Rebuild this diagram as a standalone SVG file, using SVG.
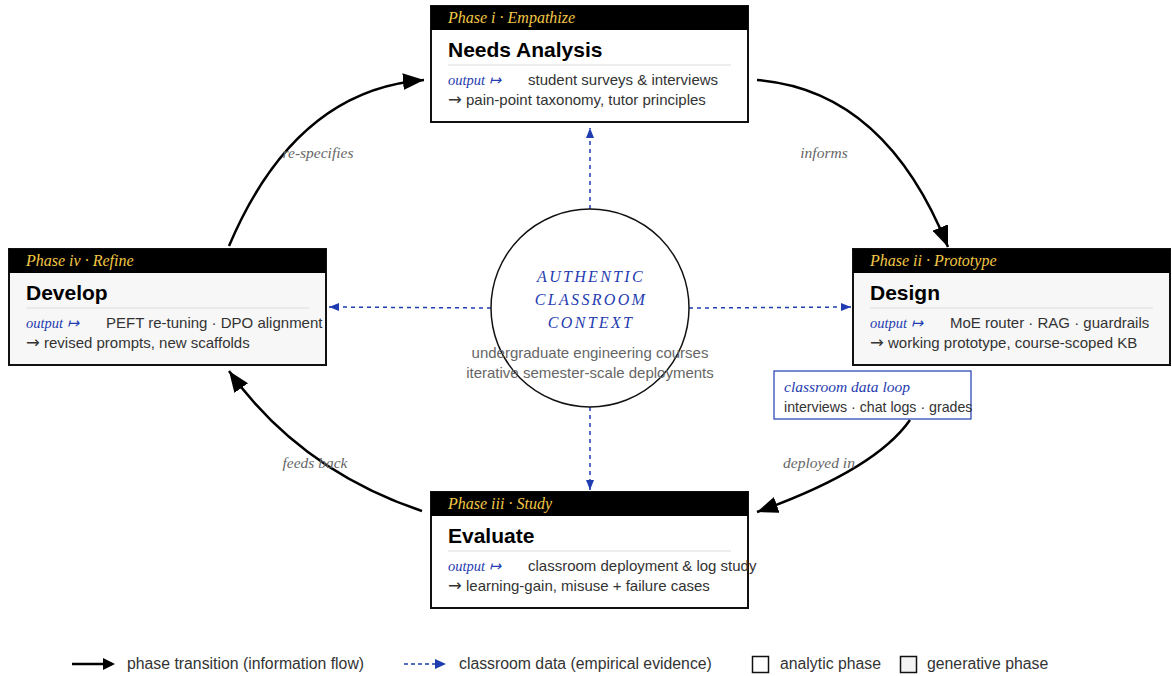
<svg xmlns="http://www.w3.org/2000/svg" width="1172" height="676" viewBox="0 0 1172 676">
<style>
.box{stroke:#111;stroke-width:2}
.an{fill:#fff}
.gen{fill:#f7f7f7}
.hdr{fill:#000}
.ph{font-family:"Liberation Serif",serif;font-style:italic;font-size:16px;fill:#f2c744}
.title{font-family:"Liberation Sans",Arial,sans-serif;font-weight:bold;font-size:21px;fill:#000}
.sep{stroke:#ddd;stroke-width:1}
.out{font-family:"Liberation Serif",serif;font-style:italic;font-size:14.5px;fill:#1f3cb0}
.body{font-family:"Liberation Sans",Arial,sans-serif;font-size:15px;fill:#333}
.arr{font-family:"DejaVu Sans",sans-serif;font-size:16.5px}
.lbl{font-family:"Liberation Serif",serif;font-style:italic;font-size:15.5px;fill:#666}
.ctx{font-family:"Liberation Serif",serif;font-style:italic;font-size:16px;fill:#1f3cb0;letter-spacing:2.3px}
.sub{font-family:"Liberation Sans",Arial,sans-serif;font-size:15px;fill:#666}
.flow{fill:none;stroke:#000;stroke-width:2.5}
.data{fill:none;stroke:#1f3cb0;stroke-width:1.5;stroke-dasharray:4 4}
.leg{font-family:"Liberation Sans",Arial,sans-serif;font-size:15.8px;fill:#333}
</style>
<defs>
<marker id="ahb" viewBox="0 0 10 10" refX="10" refY="5" markerWidth="10" markerHeight="10" markerUnits="userSpaceOnUse" orient="auto">
<path d="M0,1 L10,5 L0,9 z" fill="#1f3cb0"/>
</marker>
<marker id="ahk" viewBox="0 0 20 16" refX="20" refY="8" markerWidth="21" markerHeight="17" markerUnits="userSpaceOnUse" orient="auto">
<path d="M0,0 L20,8 L0,16 z" fill="#000"/>
</marker>
</defs>

<g id="connectors">
<path class="flow" d="M757,80 Q885,90 948,247" marker-end="url(#ahk)"/>
<path class="flow" d="M229,246 Q295,90 424,80" marker-end="url(#ahk)"/>
<path class="flow" d="M422,511 Q300,470 229,371" marker-end="url(#ahk)"/>
<path class="flow" d="M910,420 Q875,470 757,512" marker-end="url(#ahk)"/>
<path class="data" d="M590,209 L590,128" marker-end="url(#ahb)"/>
<path class="data" d="M590,407 L590,490" marker-end="url(#ahb)"/>
<path class="data" d="M491,308 L329,307" marker-end="url(#ahb)"/>
<path class="data" d="M689,308 L851,307" marker-end="url(#ahb)"/>
<text class="lbl" x="318" y="158" text-anchor="middle">re-specifies</text>
<text class="lbl" x="824" y="158" text-anchor="middle">informs</text>
<text class="lbl" x="315" y="468" text-anchor="middle">feeds back</text>
<text class="lbl" x="819" y="468" text-anchor="middle">deployed in</text>
</g>

<g id="context">
<circle cx="590" cy="308" r="99" fill="#fff" stroke="#111" stroke-width="1.5"/>
<text class="ctx" x="591" y="282" text-anchor="middle">AUTHENTIC</text>
<text class="ctx" x="591" y="305" text-anchor="middle">CLASSROOM</text>
<text class="ctx" x="591" y="328" text-anchor="middle">CONTEXT</text>
<text class="sub" x="590" y="358" text-anchor="middle">undergraduate engineering courses</text>
<text class="sub" x="590" y="378" text-anchor="middle">iterative semester-scale deployments</text>
</g>

<g id="needs-analysis">
<rect class="box an" x="431" y="6" width="317" height="116"/>
<rect class="hdr" x="431" y="6" width="317" height="24"/>
<text class="ph" x="448" y="23">Phase i · Empathize</text>
<text class="title" x="448" y="57">Needs Analysis</text>
<line class="sep" x1="448" y1="65" x2="731" y2="65"/>
<text class="out" x="448" y="85">output ↦</text>
<text class="body" x="528" y="85">student surveys &amp; interviews</text>
<text class="body" x="448" y="105"><tspan class="arr">→</tspan> pain-point taxonomy, tutor principles</text>
</g>

<g id="design">
<rect class="box gen" x="853" y="249" width="317" height="116"/>
<rect class="hdr" x="853" y="249" width="317" height="24"/>
<text class="ph" x="870" y="266">Phase ii · Prototype</text>
<text class="title" x="870" y="300">Design</text>
<line class="sep" x1="870" y1="308" x2="1153" y2="308"/>
<text class="out" x="870" y="328">output ↦</text>
<text class="body" x="950" y="328">MoE router · RAG · guardrails</text>
<text class="body" x="870" y="348"><tspan class="arr">→</tspan> working prototype, course-scoped KB</text>
</g>

<g id="evaluate">
<rect class="box an" x="431" y="492" width="317" height="116"/>
<rect class="hdr" x="431" y="492" width="317" height="24"/>
<text class="ph" x="448" y="509">Phase iii · Study</text>
<text class="title" x="448" y="543">Evaluate</text>
<line class="sep" x1="448" y1="551" x2="731" y2="551"/>
<text class="out" x="448" y="571">output ↦</text>
<text class="body" x="528" y="571">classroom deployment &amp; log study</text>
<text class="body" x="448" y="591"><tspan class="arr">→</tspan> learning-gain, misuse + failure cases</text>
</g>

<g id="develop">
<rect class="box gen" x="9" y="249" width="317" height="116"/>
<rect class="hdr" x="9" y="249" width="317" height="24"/>
<text class="ph" x="26" y="266">Phase iv · Refine</text>
<text class="title" x="26" y="300">Develop</text>
<line class="sep" x1="26" y1="308" x2="309" y2="308"/>
<text class="out" x="26" y="328">output ↦</text>
<text class="body" x="106" y="328">PEFT re-tuning · DPO alignment</text>
<text class="body" x="26" y="348"><tspan class="arr">→</tspan> revised prompts, new scaffolds</text>
</g>

<g id="data-loop">
<rect x="774" y="371" width="197" height="48" fill="#fff" stroke="#1f3cb0" stroke-width="1.2"/>
<text class="out" x="784" y="392" style="font-size:15.5px">classroom data loop</text>
<text class="body" x="784" y="412" style="font-size:14.2px">interviews · chat logs · grades</text>
</g>

<g id="legend">
<line x1="72" y1="664" x2="106" y2="664" stroke="#000" stroke-width="2.5"/>
<path d="M103,658 L115,664 L103,670 z" fill="#000"/>
<text class="leg" x="127" y="669">phase transition (information flow)</text>
<line x1="404" y1="664" x2="438" y2="664" stroke="#1f3cb0" stroke-width="1.5" stroke-dasharray="4 3"/>
<path d="M435,659 L446,664 L435,669 z" fill="#1f3cb0"/>
<text class="leg" x="459" y="669">classroom data (empirical evidence)</text>
<rect x="752.5" y="656.5" width="16" height="16" fill="#fff" stroke="#111" stroke-width="1.5"/>
<text class="leg" x="780" y="669">analytic phase</text>
<rect x="900.5" y="656.5" width="16" height="16" fill="#f3f3f3" stroke="#111" stroke-width="1.5"/>
<text class="leg" x="927" y="669">generative phase</text>
</g>
</svg>
